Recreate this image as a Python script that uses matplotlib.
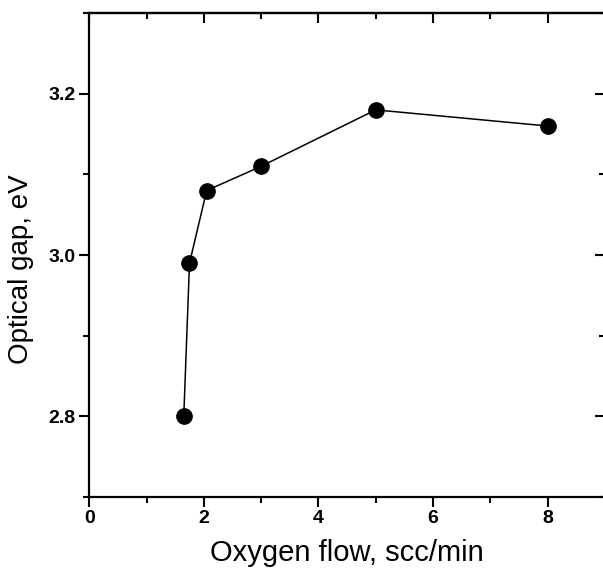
import matplotlib
matplotlib.use("Agg")
import matplotlib.pyplot as plt
from matplotlib.ticker import MultipleLocator, NullFormatter

oxygen_flow = [1.65, 1.75, 2.05, 3.0, 5.0, 8.0]
optical_gap = [2.80, 2.99, 3.08, 3.11, 3.18, 3.16]
x_ticks = [0, 2, 4, 6, 8]
y_ticks = [2.8, 3.0, 3.2]

plt.rcParams['font.family'] = ['Liberation Sans', 'DejaVu Sans']

fig = plt.figure(figsize=(6.03, 5.69), dpi=100)
ax = fig.add_axes([0.148, 0.1265, 0.855, 0.8505])

ax.plot(oxygen_flow, optical_gap, color='black', lw=1.1, marker='o',
        markersize=11, markerfacecolor='black', markeredgecolor='black')

ax.set_xlim(0, 9)
ax.set_ylim(2.7, 3.3)
ax.set_xticks(x_ticks)
ax.set_yticks(y_ticks)
ax.set_xticklabels([str(v) for v in x_ticks], fontsize=14, fontweight='bold')
ax.set_yticklabels([f"{v:.1f}" for v in y_ticks], fontsize=14, fontweight='bold')
ax.xaxis.set_minor_locator(MultipleLocator(1))
ax.yaxis.set_minor_locator(MultipleLocator(0.1))

ax.tick_params(which='both', direction='out', width=1.5)
ax.tick_params(which='major', length=7)
ax.tick_params(which='minor', length=4)
ax.tick_params(axis='x', pad=2)
ax.tick_params(axis='y', pad=3)

# top and right ticks pointing inward
top = ax.secondary_xaxis('top')
top.set_xticks(x_ticks)
top.xaxis.set_minor_locator(MultipleLocator(1))
top.xaxis.set_major_formatter(NullFormatter())
top.tick_params(which='both', direction='in', width=1.5)
top.tick_params(which='major', length=7)
top.tick_params(which='minor', length=4)

right = ax.secondary_yaxis('right')
right.set_yticks(y_ticks)
right.yaxis.set_minor_locator(MultipleLocator(0.1))
right.yaxis.set_major_formatter(NullFormatter())
right.tick_params(which='both', direction='in', width=1.5)
right.tick_params(which='major', length=7)
right.tick_params(which='minor', length=4)

for s in top.spines.values():
    s.set_linewidth(1.6)
for s in right.spines.values():
    s.set_linewidth(1.6)
for side in ['left', 'bottom', 'top', 'right']:
    ax.spines[side].set_linewidth(1.6)

ax.set_xlabel('Oxygen flow, scc/min', fontsize=21, labelpad=9)
ax.set_ylabel('Optical gap, eV', fontsize=20)
ax.yaxis.set_label_coords(-0.108, 0.47)

fig.savefig('out.png', dpi=100)
